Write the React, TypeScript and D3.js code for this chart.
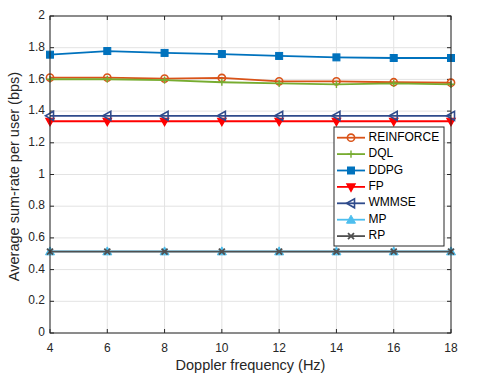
import React, { useRef, useEffect } from 'react';
import * as d3 from 'd3';

const DOPPLER = [4, 6, 8, 10, 12, 14, 16, 18];
const REINFORCE = [1.611, 1.611, 1.605, 1.609, 1.588, 1.588, 1.582, 1.579];
const DQL = [1.601, 1.601, 1.596, 1.582, 1.575, 1.569, 1.575, 1.569];
const DDPG = [1.756, 1.779, 1.767, 1.76, 1.748, 1.739, 1.735, 1.735];
const FP = [1.336, 1.336, 1.336, 1.336, 1.336, 1.336, 1.336, 1.336];
const WMMSE = [1.37, 1.37, 1.37, 1.37, 1.37, 1.37, 1.37, 1.37];
const MP = [0.515, 0.515, 0.515, 0.515, 0.515, 0.515, 0.515, 0.515];
const RP = [0.514, 0.514, 0.514, 0.514, 0.514, 0.514, 0.514, 0.514];
const X_TICKS = [4, 6, 8, 10, 12, 14, 16, 18];
const Y_TICKS = [0, 0.2, 0.4, 0.6, 0.8, 1, 1.2, 1.4, 1.6, 1.8, 2];

type Marker = 'circle' | 'plus' | 'square' | 'tdown' | 'tleft' | 'tup' | 'x';
const SERIES: { name: string; values: number[]; color: string; marker: Marker }[] = [
  { name: 'REINFORCE', values: REINFORCE, color: '#D95319', marker: 'circle' },
  { name: 'DQL', values: DQL, color: '#77AC30', marker: 'plus' },
  { name: 'DDPG', values: DDPG, color: '#0072BD', marker: 'square' },
  { name: 'FP', values: FP, color: '#FF0000', marker: 'tdown' },
  { name: 'WMMSE', values: WMMSE, color: '#2F4B8C', marker: 'tleft' },
  { name: 'MP', values: MP, color: '#4DBEEE', marker: 'tup' },
  { name: 'RP', values: RP, color: '#505050', marker: 'x' },
];

const FONT = '"Liberation Sans", Arial, Helvetica, sans-serif';

function drawMarker(g: d3.Selection<SVGGElement, unknown, null, undefined>, m: Marker, x: number, y: number, color: string) {
  const s = 3.6;
  if (m === 'circle') {
    g.append('circle').attr('cx', x).attr('cy', y).attr('r', s).attr('fill', 'none').attr('stroke', color).attr('stroke-width', 1.6);
  } else if (m === 'plus') {
    g.append('path').attr('d', `M${x - s},${y}H${x + s}M${x},${y - s}V${y + s}`).attr('stroke', color).attr('stroke-width', 1.4);
  } else if (m === 'square') {
    g.append('rect').attr('x', x - 3.5).attr('y', y - 3.5).attr('width', 7).attr('height', 7).attr('fill', color).attr('stroke', color);
  } else if (m === 'tdown') {
    g.append('path').attr('d', `M${x - 4.2},${y - 3}L${x + 4.2},${y - 3}L${x},${y + 4.5}Z`).attr('fill', color).attr('stroke', color).attr('stroke-width', 1.2);
  } else if (m === 'tleft') {
    g.append('path').attr('d', `M${x + 3.5},${y - 4.5}L${x + 3.5},${y + 4.5}L${x - 4.5},${y}Z`).attr('fill', 'none').attr('stroke', color).attr('stroke-width', 1.6);
  } else if (m === 'tup') {
    g.append('path').attr('d', `M${x - 4.5},${y + 3.5}L${x + 4.5},${y + 3.5}L${x},${y - 4.5}Z`).attr('fill', color).attr('stroke', color).attr('stroke-width', 1);
  } else {
    g.append('path').attr('d', `M${x - 3},${y - 3}L${x + 3},${y + 3}M${x - 3},${y + 3}L${x + 3},${y - 3}`).attr('stroke', color).attr('stroke-width', 1.8);
  }
}

export default function App() {
  const svgRef = useRef<SVGSVGElement | null>(null);

  useEffect(() => {
    document.body.style.margin = '0';
    if (!svgRef.current) return;
    const width = 498;
    const height = 381;
    const margin = { top: 16, right: 47, bottom: 48, left: 50 };
    const innerWidth = width - margin.left - margin.right;
    const innerHeight = height - margin.top - margin.bottom;
    const svg = d3.select(svgRef.current);
    svg.selectAll('*').remove();
    svg.append('rect').attr('width', width).attr('height', height).attr('fill', '#fff');
    const g = svg.append('g').attr('transform', `translate(${margin.left},${margin.top})`);

    const x = d3.scaleLinear().domain([4, 18]).range([0, innerWidth]);
    const y = d3.scaleLinear().domain([0, 2]).range([innerHeight, 0]);

    // grid
    X_TICKS.forEach((t) => {
      g.append('line').attr('x1', x(t)).attr('x2', x(t)).attr('y1', 0).attr('y2', innerHeight).attr('stroke', '#e3e3e3').attr('stroke-width', 1);
    });
    Y_TICKS.forEach((t) => {
      g.append('line').attr('x1', 0).attr('x2', innerWidth).attr('y1', y(t)).attr('y2', y(t)).attr('stroke', '#e3e3e3').attr('stroke-width', 1);
    });

    // ticks and labels
    const tickLen = 4;
    X_TICKS.forEach((t) => {
      g.append('line').attr('x1', x(t)).attr('x2', x(t)).attr('y1', innerHeight).attr('y2', innerHeight - tickLen).attr('stroke', '#262626');
      g.append('line').attr('x1', x(t)).attr('x2', x(t)).attr('y1', 0).attr('y2', tickLen).attr('stroke', '#262626');
      g.append('text').attr('x', x(t)).attr('y', innerHeight + 19).attr('text-anchor', 'middle').attr('fill', '#262626')
        .attr('font-size', '12px').attr('font-family', FONT).text(t);
    });
    Y_TICKS.forEach((t) => {
      g.append('line').attr('x1', 0).attr('x2', tickLen).attr('y1', y(t)).attr('y2', y(t)).attr('stroke', '#262626');
      g.append('line').attr('x1', innerWidth).attr('x2', innerWidth - tickLen).attr('y1', y(t)).attr('y2', y(t)).attr('stroke', '#262626');
      g.append('text').attr('x', -5).attr('y', y(t)).attr('text-anchor', 'end').attr('dominant-baseline', 'middle').attr('fill', '#262626')
        .attr('font-size', '12px').attr('font-family', FONT).text(d3.format('~g')(t));
    });

    // series
    const line = d3.line<number>().x((_, i) => x(DOPPLER[i])).y((d) => y(d));
    SERIES.forEach((s) => {
      g.append('path').datum(s.values).attr('d', line).attr('fill', 'none').attr('stroke', s.color).attr('stroke-width', 1.8);
      const mg = g.append('g');
      s.values.forEach((v, i) => drawMarker(mg, s.marker, x(DOPPLER[i]), y(v), s.color));
    });

    // box
    g.append('rect').attr('x', 0).attr('y', 0).attr('width', innerWidth).attr('height', innerHeight).attr('fill', 'none').attr('stroke', '#262626').attr('stroke-width', 1);

    // axis labels
    g.append('text').attr('x', innerWidth / 2).attr('y', innerHeight + 37).attr('text-anchor', 'middle').attr('fill', '#262626')
      .attr('font-size', '14.5px').attr('font-family', FONT).text('Doppler frequency (Hz)');
    g.append('text').attr('transform', 'rotate(-90)').attr('x', -(176.5 - margin.top)).attr('y', -31.5).attr('text-anchor', 'middle').attr('fill', '#262626')
      .attr('font-size', '14.5px').attr('font-family', FONT).text('Average sum-rate per user (bps)');

    // legend
    const lg = svg.append('g').attr('transform', 'translate(334,127)');
    lg.append('rect').attr('x', 0).attr('y', 0).attr('width', 110).attr('height', 119).attr('fill', '#fff').attr('stroke', '#262626').attr('stroke-width', 1);
    SERIES.forEach((s, i) => {
      const ly = 10.7 + i * 16.4;
      lg.append('line').attr('x1', 3).attr('x2', 31).attr('y1', ly).attr('y2', ly).attr('stroke', s.color).attr('stroke-width', 1.8);
      const mg = lg.append('g');
      drawMarker(mg, s.marker, 17, ly, s.color);
      lg.append('text').attr('x', 34.5).attr('y', ly).attr('dominant-baseline', 'middle').attr('fill', '#000')
        .attr('font-size', '12px').attr('font-family', FONT).text(s.name);
    });
  }, []);

  return <svg ref={svgRef} width={498} height={381} style={{ display: 'block' }} />;
}
